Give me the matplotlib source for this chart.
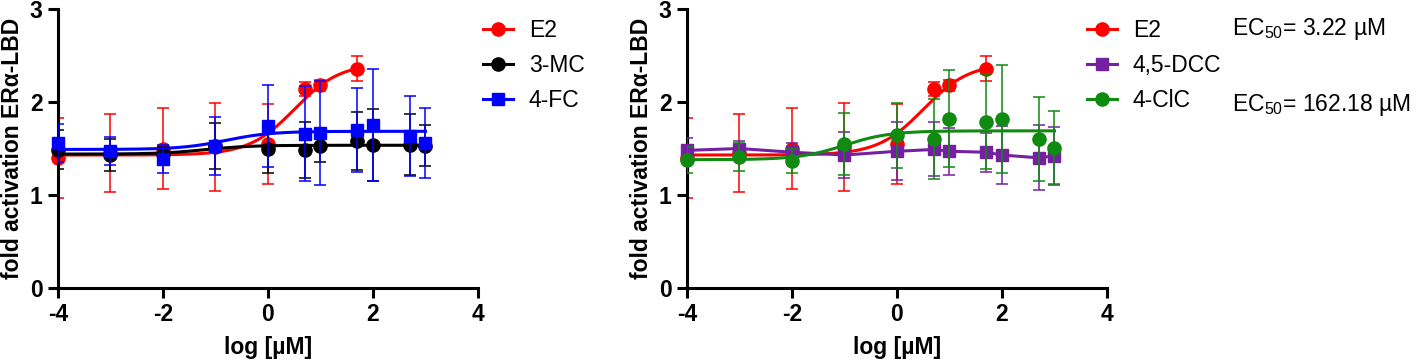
import numpy as np
import matplotlib
matplotlib.use("Agg")
import matplotlib.pyplot as plt
from matplotlib.lines import Line2D

plt.rcParams['font.family'] = ['Liberation Sans', 'DejaVu Sans']
plt.rcParams['mathtext.fontset'] = 'custom'
plt.rcParams['mathtext.rm'] = 'Liberation Sans'
plt.rcParams['mathtext.it'] = 'Liberation Sans'
plt.rcParams['axes.unicode_minus'] = False

# concentrations in µM
conc_all = [1e-4, 1e-3, 1e-2, 0.1, 1, 5, 10, 50, 100, 500, 1000]
conc_e2 = [1e-4, 1e-3, 1e-2, 0.1, 1, 5, 10, 50]

e2_mean = [1.40, 1.455, 1.50, 1.515, 1.545, 2.14, 2.18, 2.36]
e2_err = [0.43, 0.42, 0.44, 0.47, 0.43, 0.07, 0.06, 0.13]

mc3_mean = [1.485, 1.43, 1.44, 1.525, 1.50, 1.485, 1.53, 1.58, 1.54, 1.54, 1.53]
mc3_err = [0.21, 0.17, 0.08, 0.245, 0.26, 0.30, 0.18, 0.31, 0.39, 0.33, 0.22]

fc4_mean = [1.56, 1.47, 1.39, 1.53, 1.74, 1.66, 1.67, 1.70, 1.75, 1.63, 1.56]
fc4_err = [0.20, 0.15, 0.15, 0.31, 0.44, 0.51, 0.56, 0.45, 0.60, 0.43, 0.38]

dcc_mean = [1.48, 1.50, 1.46, 1.43, 1.47, 1.49, 1.47, 1.46, 1.43, 1.40, 1.42]
dcc_err = [0.13, 0.08, 0.10, 0.25, 0.31, 0.29, 0.25, 0.21, 0.31, 0.35, 0.31]

clc_mean = [1.38, 1.41, 1.37, 1.55, 1.64, 1.60, 1.82, 1.79, 1.82, 1.60, 1.51]
clc_err = [0.14, 0.15, 0.13, 0.33, 0.35, 0.43, 0.52, 0.51, 0.58, 0.45, 0.39]

# 4-parameter logistic fit parameters: bottom, top, logEC50, hill
fit_e2 = [1.43, 2.42, 0.508, 1.0]
fit_mc3 = [1.44, 1.535, -1.2, 1.0]
fit_fc4 = [1.49, 1.685, -0.8, 1.0]
fit_clc = [1.38, 1.69, -1.0, 1.0]

ec50_labels = ['EC$_{50}$= 3.22 µM', 'EC$_{50}$= 162.18 µM']

RED = '#ff0000'
BLACK = '#000000'
BLUE = '#0000ff'
PURPLE = '#7420a0'
GREEN = '#108a10'

FS = 16.5
MS_CIRCLE = 9.5
MS_SQUARE = 9


def logistic(x, p):
    b, t, lec, h = p
    return b + (t - b) / (1 + 10 ** ((lec - x) * h))


def draw_series(ax, conc, mean, err, color, marker, fit=None, connect=False, z=2):
    x = np.log10(conc)
    ax.errorbar(x, mean, yerr=err, fmt='none', ecolor=color, elinewidth=1.1,
                capsize=4, capthick=1.1, zorder=z)
    if fit is not None:
        xf = np.linspace(x.min(), x.max(), 300)
        ax.plot(xf, logistic(xf, fit), color=color, lw=2.2, zorder=z + 0.1)
    if connect:
        ax.plot(x, mean, color=color, lw=2.2, zorder=z + 0.1)
    ax.plot(x, mean, linestyle='none', marker=marker, color=color,
            markersize=MS_CIRCLE if marker == 'o' else MS_SQUARE,
            zorder=z + 0.2, clip_on=False)


def style_axes(ax):
    ax.set_xlim(-4, 4)
    ax.set_ylim(0, 3)
    ax.set_xticks([-4, -2, 0, 2, 4])
    ax.set_yticks([0, 1, 2, 3])
    for s in ['top', 'right']:
        ax.spines[s].set_visible(False)
    for s in ['left', 'bottom']:
        ax.spines[s].set_linewidth(2.2)
    ax.tick_params(direction='out', length=7, width=2.2, labelsize=FS, pad=4)
    for lab in ax.get_xticklabels() + ax.get_yticklabels():
        lab.set_fontweight('bold')
    ax.set_xlabel('log [µM]', fontsize=FS, fontweight='bold', labelpad=7)
    ax.set_ylabel('fold activation ERα-LBD', fontsize=FS, fontweight='bold', labelpad=4)


fig = plt.figure(figsize=(14.17, 3.61), dpi=100)
ax1 = fig.add_axes([0.0409, 0.2022, 0.2964, 0.7728])
ax2 = fig.add_axes([0.4848, 0.2022, 0.2964, 0.7728])

draw_series(ax1, conc_e2, e2_mean, e2_err, RED, 'o', fit=fit_e2, z=2)
draw_series(ax1, conc_all, mc3_mean, mc3_err, BLACK, 'o', fit=fit_mc3, z=3)
draw_series(ax1, conc_all, fc4_mean, fc4_err, BLUE, 's', fit=fit_fc4, z=4)
style_axes(ax1)

draw_series(ax2, conc_e2, e2_mean, e2_err, RED, 'o', fit=fit_e2, z=2)
draw_series(ax2, conc_all, dcc_mean, dcc_err, PURPLE, 's', connect=True, z=3)
draw_series(ax2, conc_all, clc_mean, clc_err, GREEN, 'o', fit=fit_clc, z=4)
style_axes(ax2)


def make_handles(items):
    return [Line2D([0], [0], color=c, marker=m, lw=2.2,
                   markersize=MS_CIRCLE if m == 'o' else MS_SQUARE) for c, m in items]


leg_kw = dict(loc='upper left', frameon=False, fontsize=FS, handlelength=1.3,
              handletextpad=0.7, labelspacing=0.52, borderaxespad=0, borderpad=0)
fig.legend(make_handles([(RED, 'o'), (BLACK, 'o'), (BLUE, 's')]),
           ['E2', '3-MC', '4-FC'], bbox_to_anchor=(483 / 1417, 1 - 19 / 361), **leg_kw)
fig.legend(make_handles([(RED, 'o'), (PURPLE, 's'), (GREEN, 'o')]),
           ['E2', '4,5-DCC', '4-ClC'], bbox_to_anchor=(1087 / 1417, 1 - 19 / 361), **leg_kw)

fig.text(1232 / 1417, 1 - 29 / 361, ec50_labels[0], fontsize=FS, va='center', ha='left')
fig.text(1232 / 1417, 1 - 105 / 361, ec50_labels[1], fontsize=FS, va='center', ha='left')

fig.savefig('out.png', dpi=100)
